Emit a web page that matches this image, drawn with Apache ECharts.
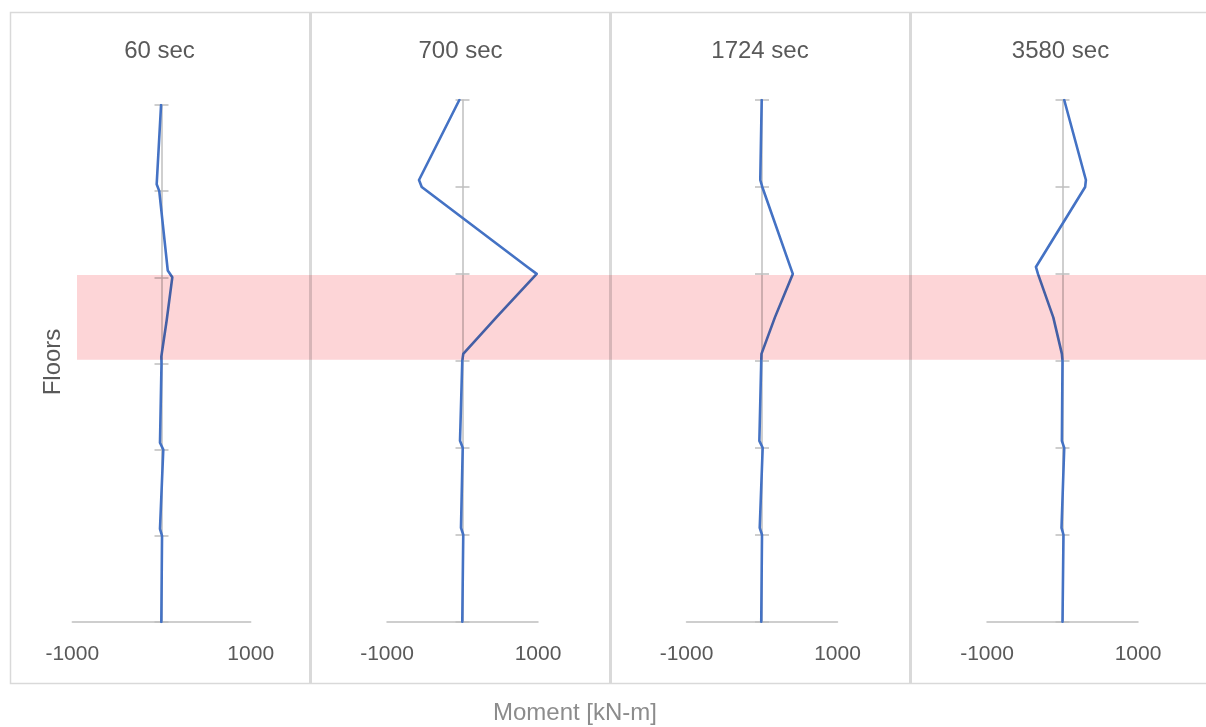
<!DOCTYPE html>
<html>
<head>
<meta charset="utf-8">
<script src="https://cdn.jsdelivr.net/npm/echarts@6/dist/echarts.min.js"></script>
<style>
  html, body { margin: 0; padding: 0; background: #ffffff; }
  #chart { width: 1206px; height: 727px; }
</style>
</head>
<body>
<div id="chart"></div>
<script>
// Bending moment along the column height at four fire-exposure times
const panelTitles = ['60 sec', '700 sec', '1724 sec', '3580 sec'];
// Floor levels of the sampled points (top to bottom; the x.08 entries are the
// top ends of the column segments just above each floor)
const floorLevels = [6, 5.08, 5, 4.08, 4, 3.5, 3.08, 3, 2.08, 2, 1.08, 1, 0];
// Moment values in kN-m, one per floor level
const moment60   = [-5, -54, -25, 70, 121, 58, -2, 0, -17, 20, -17, 6, -2];
const moment700  = [-42, -576, -540, 860, 983, 448, 10, -3, -33, 3, -20, 10, -3];
const moment1724 = [-4, -23, 4, 375, 408, 171, -7, -10, -35, 9, -30, 0, -10];
const moment3580 = [23, 310, 300, -352, -325, -122, -8, 0, -8, 23, -13, 13, 0];
const momentTicks = [-1000, 1000];
const floorRange = [0, 6];
// Heated storey, highlighted across all panels
const bandFloors = [3, 4];

const seriesValues = [moment60, moment700, moment1724, moment3580];

const FONT = '"Liberation Sans", Arial, sans-serif';
const TEXT_COLOR = '#595959';
const AXIS_COLOR = '#bfbfbf';
const FRAME_COLOR = '#d9d9d9';

// Plot rectangles for the four panels
const gridBoxes = [
  { left: 72.3, top: 105, width: 178.4, height: 517 },
  { left: 387,  top: 100, width: 151,   height: 521.7 },
  { left: 686.5, top: 100, width: 151,  height: 521.7 },
  { left: 987,  top: 100, width: 151,   height: 521.7 }
];

const chart = echarts.init(document.getElementById('chart'), null, { renderer: 'canvas' });

const grid = [], xAxis = [], yAxis = [], series = [];
gridBoxes.forEach(function (box, i) {
  grid.push(Object.assign({ containLabel: false }, box));
  xAxis.push({
    gridIndex: i,
    type: 'value',
    min: momentTicks[0],
    max: momentTicks[momentTicks.length - 1],
    interval: momentTicks[1] - momentTicks[0],
    axisLine: { show: true, onZero: false, lineStyle: { color: AXIS_COLOR, width: 1.5 } },
    axisTick: { show: false },
    splitLine: { show: false },
    axisLabel: {
      show: true, margin: 22, fontSize: 21, color: TEXT_COLOR, fontFamily: FONT,
      formatter: function (v) { return String(v); }
    }
  });
  // two vertical axes sitting on x = 0 so the floor ticks cross the axis line
  ['left', 'right'].forEach(function (pos) {
    yAxis.push({
      gridIndex: i,
      type: 'value',
      position: pos,
      min: floorRange[0],
      max: floorRange[1],
      interval: 1,
      axisLine: {
        show: pos === 'left', onZero: true, onZeroAxisIndex: i,
        lineStyle: { color: AXIS_COLOR, width: 1.5 }
      },
      axisTick: { show: true, length: 7, lineStyle: { color: AXIS_COLOR, width: 1.5 } },
      axisLabel: { show: false },
      splitLine: { show: false }
    });
  });
  series.push({
    type: 'line',
    name: panelTitles[i],
    xAxisIndex: i,
    yAxisIndex: 2 * i,
    data: floorLevels.map(function (f, k) { return [seriesValues[i][k], f]; }),
    showSymbol: false,
    symbol: 'none',
    silent: true,
    z: 3,
    lineStyle: { color: '#4472C4', width: 2.6, join: 'round', cap: 'round' }
  });
});

chart.setOption({
  backgroundColor: '#ffffff',
  animation: false,
  grid: grid,
  xAxis: xAxis,
  yAxis: yAxis,
  series: series
});

// Frames, titles and the highlighted storey band
const graphics = [];
graphics.push({
  type: 'rect', z: 0, silent: true,
  shape: { x: 10.5, y: 12.5, width: 1210, height: 671 },
  style: { fill: null, stroke: FRAME_COLOR, lineWidth: 1.5 }
});
[310.5, 610.5, 910.5].forEach(function (x) {
  graphics.push({
    type: 'line', z: 0, silent: true,
    shape: { x1: x, y1: 12, x2: x, y2: 684 },
    style: { stroke: FRAME_COLOR, lineWidth: 3 }
  });
});
gridBoxes.forEach(function (box, i) {
  const cx = chart.convertToPixel({ gridIndex: i }, [0, 0])[0];
  graphics.push({
    type: 'text', z: 5, silent: true,
    style: {
      text: panelTitles[i], x: cx - 2, y: 51,
      fill: TEXT_COLOR, font: '24px ' + FONT,
      textAlign: 'center', textVerticalAlign: 'middle'
    }
  });
});
graphics.push({
  type: 'text', z: 5, silent: true,
  x: 53, y: 362, rotation: Math.PI / 2,
  style: {
    text: 'Floors', x: 0, y: 0,
    fill: TEXT_COLOR, font: '24px ' + FONT,
    textAlign: 'center', textVerticalAlign: 'middle'
  }
});
graphics.push({
  type: 'text', z: 5, silent: true,
  style: {
    text: 'Moment [kN-m]', x: 575, y: 713,
    fill: '#8c8c8c', font: '24px ' + FONT,
    textAlign: 'center', textVerticalAlign: 'middle'
  }
});
const bandTop = chart.convertToPixel({ gridIndex: 1 }, [0, bandFloors[1]])[1];
const bandBottom = chart.convertToPixel({ gridIndex: 1 }, [0, bandFloors[0]])[1];
graphics.push({
  type: 'rect', z: 100, silent: true,
  shape: { x: 77, y: bandTop + 1, width: 1206 - 77, height: bandBottom - bandTop - 2 },
  style: { fill: 'rgb(253, 213, 215)', blend: 'multiply' }
});

chart.setOption({ graphic: graphics });
</script>
</body>
</html>
